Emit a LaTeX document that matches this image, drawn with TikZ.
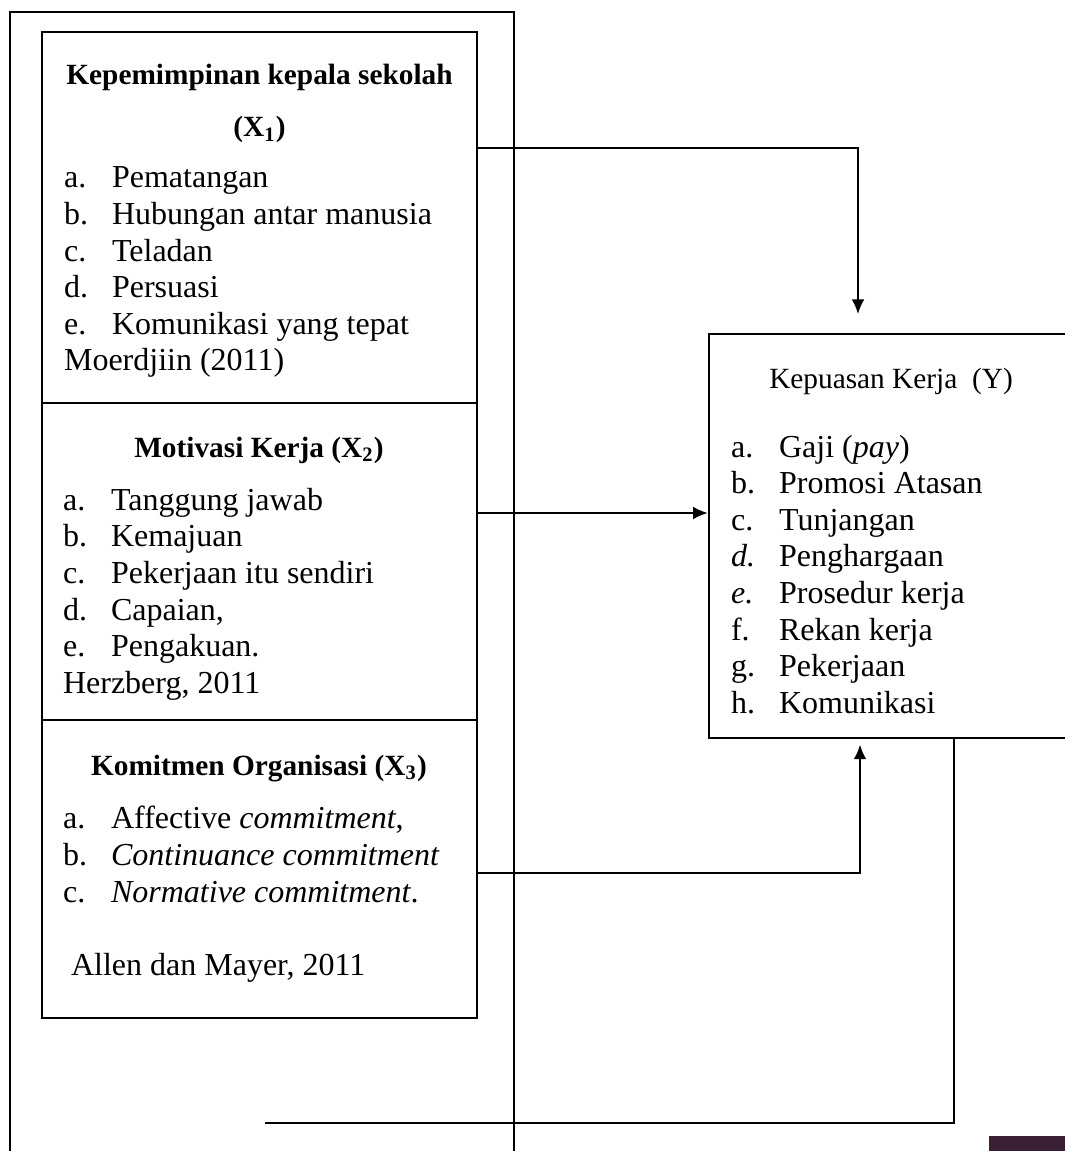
\documentclass[tikz,border=0pt]{standalone}
\usepackage{fontspec}
\setmainfont{Liberation Serif}
\usepackage{xcolor}
\usetikzlibrary{calc}
\usetikzlibrary{arrows.meta}
\usetikzlibrary{fit}
\definecolor{pagemark}{RGB}{59,31,53}
\newcommand{\lb}[1]{\makebox[18pt][l]{#1}}

\begin{document}
\begin{tikzpicture}[x=0.375pt,y=-0.375pt,line width=0.8pt,>={Latex[length=5.5pt,width=4.8pt]}]
\tikzstyle{bx}=[draw,shape=rectangle,inner sep=0pt,line width=0.9pt]
\tikzstyle{ttl}=[anchor=base,inner sep=0pt,font=\fontsize{11}{13}\selectfont\bfseries]
\tikzstyle{itm}=[anchor=base west,inner sep=0pt,font=\fontsize{12}{14}\selectfont]
\useasboundingbox (0,0) rectangle (1065,1151);
\clip (0,0) rectangle (1065,1151);
%
\draw (10,1160) -- (10,12) -- (514,12) -- (514,1160);
\fill[pagemark] (989,1136) rectangle (1065,1151);
%
\node[bx,fit={(42,32) (477,403)}](x1){};
\node[bx,fit={(42,403) (477,720)}](x2){};
\node[bx,fit={(42,720) (477,1018)}](x3){};
\node[bx,fit={(709,334) (1073,738)}](y){};
%
\node[ttl](x1t) at (259.5,85){Kepemimpinan kepala sekolah};
\node[ttl](x1s) at (259.5,137){(X\textsubscript{1})};
\node[itm](x1a) at (63,188){\lb{a.}Pematangan};
\node[itm](x1b) at (63,224.5){\lb{b.}Hubungan antar manusia};
\node[itm](x1c) at (63,261){\lb{c.}Teladan};
\node[itm](x1d) at (63,297.5){\lb{d.}Persuasi};
\node[itm](x1e) at (63,334){\lb{e.}Komunikasi yang tepat};
\node[itm](x1r) at (63,370){Moerdjiin (2011)};
%
\node[ttl](x2t) at (259,457){Motivasi Kerja (X\textsubscript{2})};
\node[itm](x2a) at (62,510){\lb{a.}Tanggung jawab};
\node[itm](x2b) at (62,546.7){\lb{b.}Kemajuan};
\node[itm](x2c) at (62,583.4){\lb{c.}Pekerjaan itu sendiri};
\node[itm](x2d) at (62,620){\lb{d.}Capaian,};
\node[itm](x2e) at (62,656.7){\lb{e.}Pengakuan.};
\node[itm](x2r) at (62,693){Herzberg, 2011};
%
\node[ttl](x3t) at (259,775){Komitmen Organisasi (X\textsubscript{3})};
\node[itm](x3a) at (62,828){\lb{a.}Affective \textit{commitment},};
\node[itm](x3b) at (62,865){\lb{b.}\textit{Continuance commitment}};
\node[itm](x3c) at (62,902){\lb{c.}\textit{Normative commitment}.};
\node[itm](x3r) at (70,975){Allen dan Mayer, 2011};
%
\node[ttl,font=\fontsize{11}{13}\selectfont](yt) at (891,388){Kepuasan Kerja\ \ (Y)};
\node[itm](ya) at (730,457){\lb{a.}Gaji (\textit{pay})};
\node[itm](yb) at (730,493.6){\lb{b.}Promosi Atasan};
\node[itm](yc) at (730,530.2){\lb{c.}Tunjangan};
\node[itm](yd) at (730,566.8){\lb{\textit{d.}}Penghargaan};
\node[itm](ye) at (730,603.4){\lb{\textit{e.}}Prosedur kerja};
\node[itm](yf) at (730,640){\lb{f.}Rekan kerja};
\node[itm](yg) at (730,676.6){\lb{g.}Pekerjaan};
\node[itm](yh) at (730,713.2){\lb{h.}Komunikasi};
%
\coordinate (t1) at (858,148);
\coordinate (t2) at (0,513);
\coordinate (t3) at (860,873);
\coordinate (t4) at (954,1123);
\coordinate (e4) at (265,1123);
%
\draw[->,shorten >=7pt] (x1.east |- t1) -- (t1) -- (t1 |- y.north);
\draw[->] (x2.east |- t2) -- (y.west |- t2);
\draw[->,shorten >=2pt] (x3.east |- t3) -- (t3) -- (t3 |- y.south);
\draw (y.south -| t4) -- (t4) -- (e4);
\end{tikzpicture}
\end{document}
